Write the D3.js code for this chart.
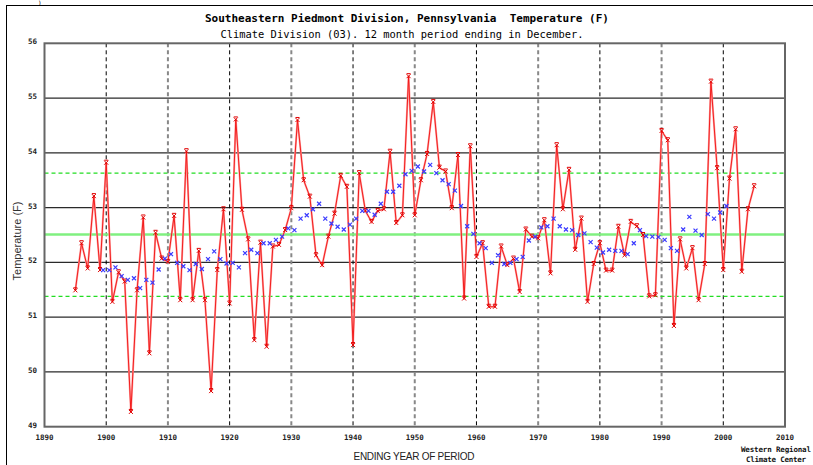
<!DOCTYPE html>
<html>
<head>
<meta charset="utf-8">
<script src="https://cdn.jsdelivr.net/npm/d3@7"></script>
<style>
  body { margin: 0; background: #fff; }
  svg { display: block; }
  text { white-space: pre; }
</style>
</head>
<body>
<div id="chart"></div>
<script>
// annual temperature (F), 12 month period ending in December
var years = d3.range(1895, 2006);
var temps = [
  51.49, 52.35, 51.89, 53.21, 51.86, 53.82, 51.28, 51.82, 51.65, 49.27,
  51.49, 52.82, 50.34, 52.54, 52.07, 52.01, 52.85, 51.31, 54.03, 51.31,
  52.21, 51.31, 49.65, 51.86, 52.97, 51.25, 54.61, 52.96, 52.42, 50.58,
  52.36, 50.46, 52.29, 52.32, 52.59, 52.99, 54.60, 53.50, 53.20, 52.13,
  51.95, 52.47, 52.89, 53.58, 53.38, 50.49, 53.63, 52.94, 52.74, 52.94,
  52.97, 54.02, 52.72, 52.86, 55.40, 52.86, 53.50, 53.98, 54.93, 53.73,
  53.66, 52.99, 53.96, 51.34, 54.12, 52.10, 52.35, 51.19, 51.19, 52.29,
  51.95, 52.07, 51.46, 52.60, 52.47, 52.44, 52.77, 51.80, 54.14, 52.97,
  53.69, 52.23, 52.80, 51.28, 51.97, 52.35, 51.85, 51.85, 52.65, 52.13,
  52.74, 52.66, 52.50, 51.38, 51.40, 54.40, 54.23, 50.84, 52.42, 51.89,
  52.26, 51.31, 51.97, 55.30, 53.72, 51.86, 53.53, 54.43, 51.83, 52.97,
  53.39
];

// 10 year running mean, centred between years (first window 1895-1904)
var meanStart = 1899.5;
var means = [
  51.86, 51.86, 51.91, 51.75, 51.68, 51.71, 51.53, 51.68, 51.63, 51.87,
  52.07, 52.15, 51.99, 51.93, 51.86, 51.97, 51.88, 52.06, 52.20, 52.06,
  51.98, 51.99, 51.91, 52.17, 52.23, 52.17, 52.35, 52.35, 52.41, 52.47,
  52.62, 52.59, 52.80, 52.86, 52.97, 53.07, 52.80, 52.71, 52.65, 52.60,
  52.69, 52.80, 52.94, 52.94, 52.87, 53.07, 53.29, 53.29, 53.40, 53.61,
  53.67, 53.75, 53.66, 53.78, 53.63, 53.50, 53.43, 53.31, 53.03, 52.66,
  52.52, 52.35, 52.26, 51.99, 52.13, 51.97, 51.99, 52.06, 52.10, 52.40,
  52.47, 52.64, 52.66, 52.80, 52.66, 52.60, 52.59, 52.50, 52.53, 52.37,
  52.27, 52.18, 52.23, 52.21, 52.21, 52.15, 52.35, 52.59, 52.48, 52.47,
  52.46, 52.41, 52.26, 52.21, 52.60, 52.83, 52.58, 52.50, 52.88, 52.80,
  52.91, 53.03
];

var average = 52.51;
var spread = [51.38, 53.63];   // mean -/+ one std dev

var xTicks = d3.range(1890, 2011, 10);
var yTicks = d3.range(49, 57, 1);

var width = 813, height = 465;
var x = d3.scaleLinear().domain([1890, 2010]).range([44.5, 785]);
var y = d3.scaleLinear().domain([49, 56]).range([426.7, 43.3]);

var svg = d3.select("#chart").append("svg")
  .attr("width", width)
  .attr("height", height);

svg.append("rect").attr("width", width).attr("height", height).attr("fill", "#fff");

// outer frame bits (top and left edge of the picture)
svg.append("line").attr("x1", 6).attr("x2", width).attr("y1", 5.5).attr("y2", 5.5)
  .attr("stroke", "#000").attr("stroke-width", 1);
svg.append("line").attr("x1", 6.5).attr("x2", 6.5).attr("y1", 5).attr("y2", height)
  .attr("stroke", "#000").attr("stroke-width", 1);
svg.append("text").attr("x", 38).attr("y", 5)
  .attr("font-family", "DejaVu Sans Mono").attr("font-size", 6).text(")");

// titles
svg.append("text")
  .attr("x", 407).attr("y", 22)
  .attr("text-anchor", "middle")
  .attr("font-family", "DejaVu Sans Mono")
  .attr("font-weight", "bold")
  .attr("font-size", 11)
  .text("Southeastern Piedmont Division, Pennsylvania  Temperature (F)");
svg.append("text")
  .attr("x", 402).attr("y", 37.5)
  .attr("text-anchor", "middle")
  .attr("font-family", "DejaVu Sans Mono")
  .attr("font-size", 10.4)
  .text("Climate Division (03). 12 month period ending in December.");

var g = svg.append("g");

// horizontal grid
g.selectAll(".hgrid")
  .data(yTicks.filter(function(d) { return d > 49 && d < 56; }))
  .enter().append("line")
  .attr("x1", x(1890)).attr("x2", x(2010))
  .attr("y1", function(d) { return y(d); })
  .attr("y2", function(d) { return y(d); })
  .attr("stroke", "#2a2a2a")
  .attr("stroke-width", 1.3);

// vertical dashed decade lines
g.selectAll(".vgrid")
  .data(xTicks.filter(function(d) { return d > 1890 && d < 2010; }))
  .enter().append("line")
  .attr("x1", function(d) { return x(d); })
  .attr("x2", function(d) { return x(d); })
  .attr("y1", y(56)).attr("y2", y(49))
  .attr("stroke", function(d) { return d % 20 == 0 ? "#000" : "#888"; })
  .attr("stroke-width", function(d) { return d % 20 == 0 ? 1 : 2; })
  .attr("stroke-dasharray", "4,3");

// average and std dev lines
g.append("line")
  .attr("x1", x(1890)).attr("x2", x(2010))
  .attr("y1", y(average)).attr("y2", y(average))
  .attr("stroke", "#80f080").attr("stroke-width", 2.5);
g.selectAll(".sd")
  .data(spread)
  .enter().append("line")
  .attr("x1", x(1890)).attr("x2", x(2010))
  .attr("y1", function(d) { return y(d); })
  .attr("y2", function(d) { return y(d); })
  .attr("stroke", "#22dd22").attr("stroke-width", 1.2)
  .attr("stroke-dasharray", "4,3");

// annual series
var pts = years.map(function(yr, i) { return [yr, temps[i]]; });
var line = d3.line()
  .x(function(d) { return x(d[0]); })
  .y(function(d) { return y(d[1]); });

g.append("path").datum(pts)
  .attr("fill", "none")
  .attr("stroke", "#ffa0a0")
  .attr("stroke-width", 2)
  .attr("d", line);
g.append("path").datum(pts)
  .attr("fill", "none")
  .attr("stroke", "#f01010")
  .attr("stroke-width", 0.9)
  .attr("d", line);

g.selectAll(".rmark")
  .data(pts)
  .enter().append("path")
  .attr("transform", function(d) { return "translate(" + x(d[0]) + "," + y(d[1]) + ")"; })
  .attr("d", "M-2,-2L2,2M-2,2L2,-2M-2,-2.5H2")
  .attr("fill", "none")
  .attr("stroke", "#e00000")
  .attr("stroke-width", 1);

// running mean markers
g.selectAll(".bmark")
  .data(means)
  .enter().append("path")
  .attr("transform", function(d, i) { return "translate(" + x(meanStart + i) + "," + y(d) + ")"; })
  .attr("d", "M-2,-2L2,2M-2,2L2,-2")
  .attr("fill", "none")
  .attr("stroke", "#3a3aff")
  .attr("stroke-width", 1.2);

// plot frame
g.append("rect")
  .attr("x", x(1890)).attr("y", y(56))
  .attr("width", x(2010) - x(1890))
  .attr("height", y(49) - y(56))
  .attr("fill", "none")
  .attr("stroke", "#666")
  .attr("stroke-width", 2);

// tick labels
g.selectAll(".ylab")
  .data(yTicks)
  .enter().append("text")
  .attr("x", 37).attr("y", function(d) { return y(d) - 1; })
  .attr("text-anchor", "end")
  .attr("dominant-baseline", "middle")
  .attr("font-family", "DejaVu Sans Mono")
  .attr("font-weight", "bold")
  .attr("font-size", 7.5)
  .attr("fill", "#222")
  .text(function(d) { return d; });

g.selectAll(".xlab")
  .data(xTicks)
  .enter().append("text")
  .attr("x", function(d) { return x(d); })
  .attr("y", 439.5)
  .attr("text-anchor", "middle")
  .attr("font-family", "DejaVu Sans Mono")
  .attr("font-weight", "bold")
  .attr("font-size", 7.5)
  .attr("fill", "#222")
  .text(function(d) { return d; });

// axis titles
svg.append("text")
  .attr("transform", "translate(21,241) rotate(-90)")
  .attr("text-anchor", "middle")
  .attr("font-family", "Liberation Sans")
  .attr("font-size", 11)
  .attr("fill", "#333")
  .text("Temperature (F)");

svg.append("text")
  .attr("x", 414).attr("y", 460)
  .attr("text-anchor", "middle")
  .attr("font-family", "Liberation Sans")
  .attr("font-size", 10)
  .attr("textLength", 121)
  .attr("fill", "#222")
  .text("ENDING YEAR OF PERIOD");

svg.append("text")
  .attr("x", 741).attr("y", 452)
  .attr("font-family", "DejaVu Sans Mono")
  .attr("font-weight", "bold")
  .attr("font-size", 7.5)
  .attr("textLength", 70)
  .attr("fill", "#111")
  .text("Western Regional");
svg.append("text")
  .attr("x", 746).attr("y", 462)
  .attr("font-family", "DejaVu Sans Mono")
  .attr("font-weight", "bold")
  .attr("font-size", 7.5)
  .attr("textLength", 60)
  .attr("fill", "#111")
  .text("Climate Center");
</script>
</body>
</html>
